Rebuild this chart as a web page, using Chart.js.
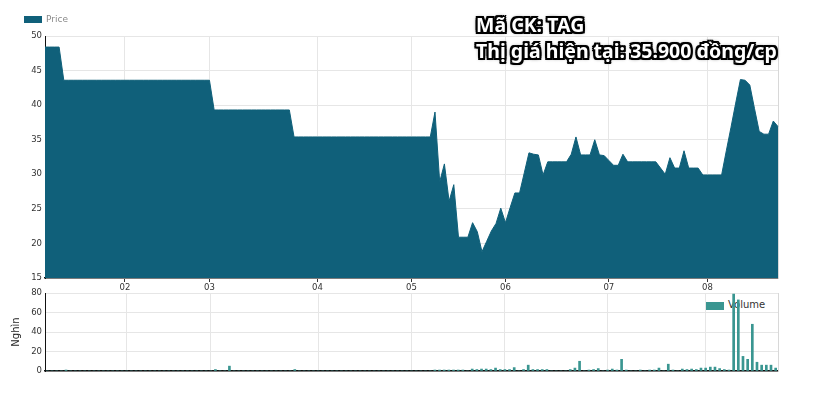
<!DOCTYPE html>
<html>
<head>
<meta charset="utf-8">
<script src="https://cdn.jsdelivr.net/npm/chart.js@4.4.1/dist/chart.umd.min.js"></script>
<style>
  body { margin: 0; background: #fff; }
  #wrap { position: relative; width: 836px; height: 412px; overflow: hidden; font-family: 'DejaVu Sans', sans-serif; }
  #priceBox { position: absolute; left: 0; top: 0; width: 836px; height: 295px; z-index: 2; }
  #volBox { position: absolute; left: 0; top: 285px; width: 836px; height: 95px; z-index: 2; }
  .leg { position: absolute; font-size: 9px; line-height: 9px; white-space: nowrap; }
  .leg i { position: absolute; left: 0; top: 1px; width: 18px; height: 7px; }
  .leg span { position: absolute; left: 22px; top: 0; }
  #legPrice { left: 24px; top: 15px; color: #8a8a8a; z-index: 3; }
  #legPrice i { background: #10607a; }
  #legVol { left: 706px; top: 301px; color: #333; font-size: 10px; z-index: 1; }
  #legVol i { background: #3a9691; top: 1px; height: 8px; }
  #legVol span { top: -1px; }
  #title {
    position: absolute; left: 476px; top: 12px; z-index: 4;
    font-family: 'Noto Sans', sans-serif; font-weight: bold; font-size: 19.5px; line-height: 26px;
    color: #fff; white-space: nowrap;
    text-shadow: -2px -2px 0 #000, 2px -2px 0 #000, -2px 2px 0 #000, 2px 2px 0 #000,
                 0 -2px 0 #000, 0 2px 0 #000, -2px 0 0 #000, 2px 0 0 #000, 0 0 4px #000;
  }
</style>
</head>
<body>
<div id="wrap">
  <div id="legPrice" class="leg"><i></i><span>Price</span></div>
  <div id="legVol" class="leg"><i></i><span>Volume</span></div>
  <div id="priceBox"><canvas id="priceChart"></canvas></div>
  <div id="volBox"><canvas id="volChart"></canvas></div>
  <div id="title">Mã CK: TAG<br>Thị giá hiện tại: 35.900 đồng/cp</div>
</div>
<script>
// month tick labels and the trading-day index where each month starts
const monthLabels = ['02', '03', '04', '05', '06', '07', '08'];
const monthStart = [17, 35, 58, 78, 98, 120, 141];

// closing price (nghin dong), one value per trading day
const price = [
  48.4, 48.4, 48.4, 48.4,
  43.6, 43.6, 43.6, 43.6, 43.6, 43.6, 43.6, 43.6, 43.6, 43.6, 43.6, 43.6, 43.6, 43.6, 43.6, 43.6,
  43.6, 43.6, 43.6, 43.6, 43.6, 43.6, 43.6, 43.6, 43.6, 43.6, 43.6, 43.6, 43.6, 43.6, 43.6, 43.6,
  39.3, 39.3, 39.3, 39.3, 39.3, 39.3, 39.3, 39.3, 39.3, 39.3, 39.3, 39.3, 39.3, 39.3, 39.3, 39.3, 39.3,
  35.4, 35.4, 35.4, 35.4, 35.4, 35.4, 35.4, 35.4, 35.4, 35.4, 35.4, 35.4, 35.4, 35.4, 35.4,
  35.4, 35.4, 35.4, 35.4, 35.4, 35.4, 35.4, 35.4, 35.4, 35.4, 35.4, 35.4, 35.4, 35.4, 35.4,
  39.0, 28.9, 31.5, 26.1, 28.5, 20.9, 20.9, 20.9, 23.0, 21.7,
  18.8, 20.3, 21.8, 22.9, 25.1, 23.0, 25.2, 27.3, 27.3, 30.2,
  33.1, 32.9, 32.8, 29.9, 31.8, 31.8, 31.8, 31.8, 31.8, 32.9,
  35.4, 32.8, 32.8, 32.8, 35.0, 32.8, 32.7, 32.0, 31.3, 31.3,
  32.9,
  31.8, 31.8, 31.8, 31.8, 31.8, 31.8, 31.8,
  30.9, 30.0, 32.4, 30.9, 30.9, 33.4, 30.9, 30.9, 30.9,
  29.9, 29.9, 29.9, 29.9, 29.9,
  33.4, 36.8, 40.3, 43.7, 43.6, 42.9, 39.5, 36.2, 35.8, 35.8, 37.7, 36.9
];

// traded volume (nghin co phieu)
const volume = [
  0, 0, 0, 0, 1, 0, 0, 0, 0, 0,
  0, 0, 0, 0, 0, 0, 0, 0, 0, 0,
  0, 0, 0, 0, 0, 0, 0, 0, 0, 0,
  0, 0, 0, 0, 0, 0, 1.5, 0, 0, 5,
  0, 0, 0, 0, 0, 0, 0, 0, 0, 0,
  0, 0, 0, 1.5, 0, 0, 0, 0, 0, 0,
  0, 0, 0, 0, 0, 0, 0, 0, 0, 0,
  0, 0, 0, 0, 0, 0, 0, 0, 0, 0,
  0, 0, 0, 1, 1, 1, 1, 1, 1, 1,
  0, 2, 1.5, 2, 2, 1.5, 3, 1.5, 1.5, 1.5,
  3.5, 0, 1.5, 6, 1.5, 1.5, 1.5, 1.5, 0, 0,
  0, 0, 1.5, 3, 10, 0, 1, 1.5, 2.5, 0,
  1, 2, 1, 12, 1, 0, 0, 1, 0, 1,
  1, 3, 0, 7, 1, 0, 2, 1.5, 2, 1.5,
  3, 3, 4, 4, 2.5, 1.5, 1, 79, 73, 15,
  12, 48, 9, 6, 6, 6, 3
];

const days = price.map(function(_, i) { return i; });

Chart.defaults.font.family = "'DejaVu Sans', sans-serif";
Chart.defaults.font.size = 8.5;
Chart.defaults.color = '#333';
Chart.defaults.animation = false;

var gridColor = '#e6e6e6';
var axisColor = '#111';

function monthTicks(axis) {
  axis.ticks = monthStart.map(function(v) { return { value: v }; });
}
function monthLabel(v) {
  var k = monthStart.indexOf(v);
  return k < 0 ? '' : monthLabels[k];
}
function rightBorder() {
  return {
    position: 'right',
    grid: { display: false },
    ticks: { display: false },
    border: { color: '#d8d8d8', width: 1 },
    afterFit: function(a) { a.width = 0; }
  };
}

var priceChart = new Chart(document.getElementById('priceChart'), {
  type: 'line',
  data: {
    labels: days,
    datasets: [{
      label: 'Price',
      data: price,
      fill: 'start',
      backgroundColor: '#10607a',
      borderColor: '#10607a',
      borderWidth: 1,
      pointRadius: 0,
      tension: 0
    }]
  },
  options: {
    responsive: true,
    maintainAspectRatio: false,
    layout: { padding: { left: 0, right: 58, top: 36, bottom: 0 } },
    plugins: { legend: { display: false }, tooltip: { enabled: false } },
    scales: {
      x: {
        offset: false,
        grid: { color: gridColor, tickLength: 4, tickColor: '#333' },
        border: { color: axisColor, width: 1.5 },
        ticks: { autoSkip: false, maxRotation: 0, padding: 1, callback: monthLabel },
        afterBuildTicks: monthTicks,
        afterFit: function(a) { a.height = 17; }
      },
      y: {
        min: 15,
        max: 50,
        grid: { color: gridColor, drawTicks: false },
        border: { color: axisColor, width: 1 },
        ticks: { stepSize: 5, padding: 3 },
        afterFit: function(a) { a.width = 45; }
      },
      y2: rightBorder()
    }
  }
});

var volChart = new Chart(document.getElementById('volChart'), {
  type: 'bar',
  data: {
    labels: days,
    datasets: [{
      label: 'Volume',
      data: volume,
      backgroundColor: '#3a9691',
      borderWidth: 0,
      barThickness: 2
    }]
  },
  options: {
    responsive: true,
    maintainAspectRatio: false,
    layout: { padding: { left: 0, right: 58, top: 8, bottom: 0 } },
    plugins: { legend: { display: false }, tooltip: { enabled: false } },
    scales: {
      x: {
        offset: true,
        grid: { color: gridColor, offset: false, drawTicks: false },
        border: { color: axisColor, width: 1.5 },
        ticks: { display: false },
        afterBuildTicks: monthTicks,
        afterFit: function(a) { a.height = 9; }
      },
      y: {
        min: 0,
        max: 80,
        grid: { color: gridColor, drawTicks: false },
        border: { color: axisColor, width: 1 },
        ticks: { stepSize: 20, padding: 3 },
        title: { display: true, text: 'Nghìn', font: { size: 10 }, color: '#222', padding: { top: 10, bottom: 0 } },
        afterFit: function(a) { a.width = 45; }
      },
      y2: rightBorder()
    }
  }
});
</script>
</body>
</html>
